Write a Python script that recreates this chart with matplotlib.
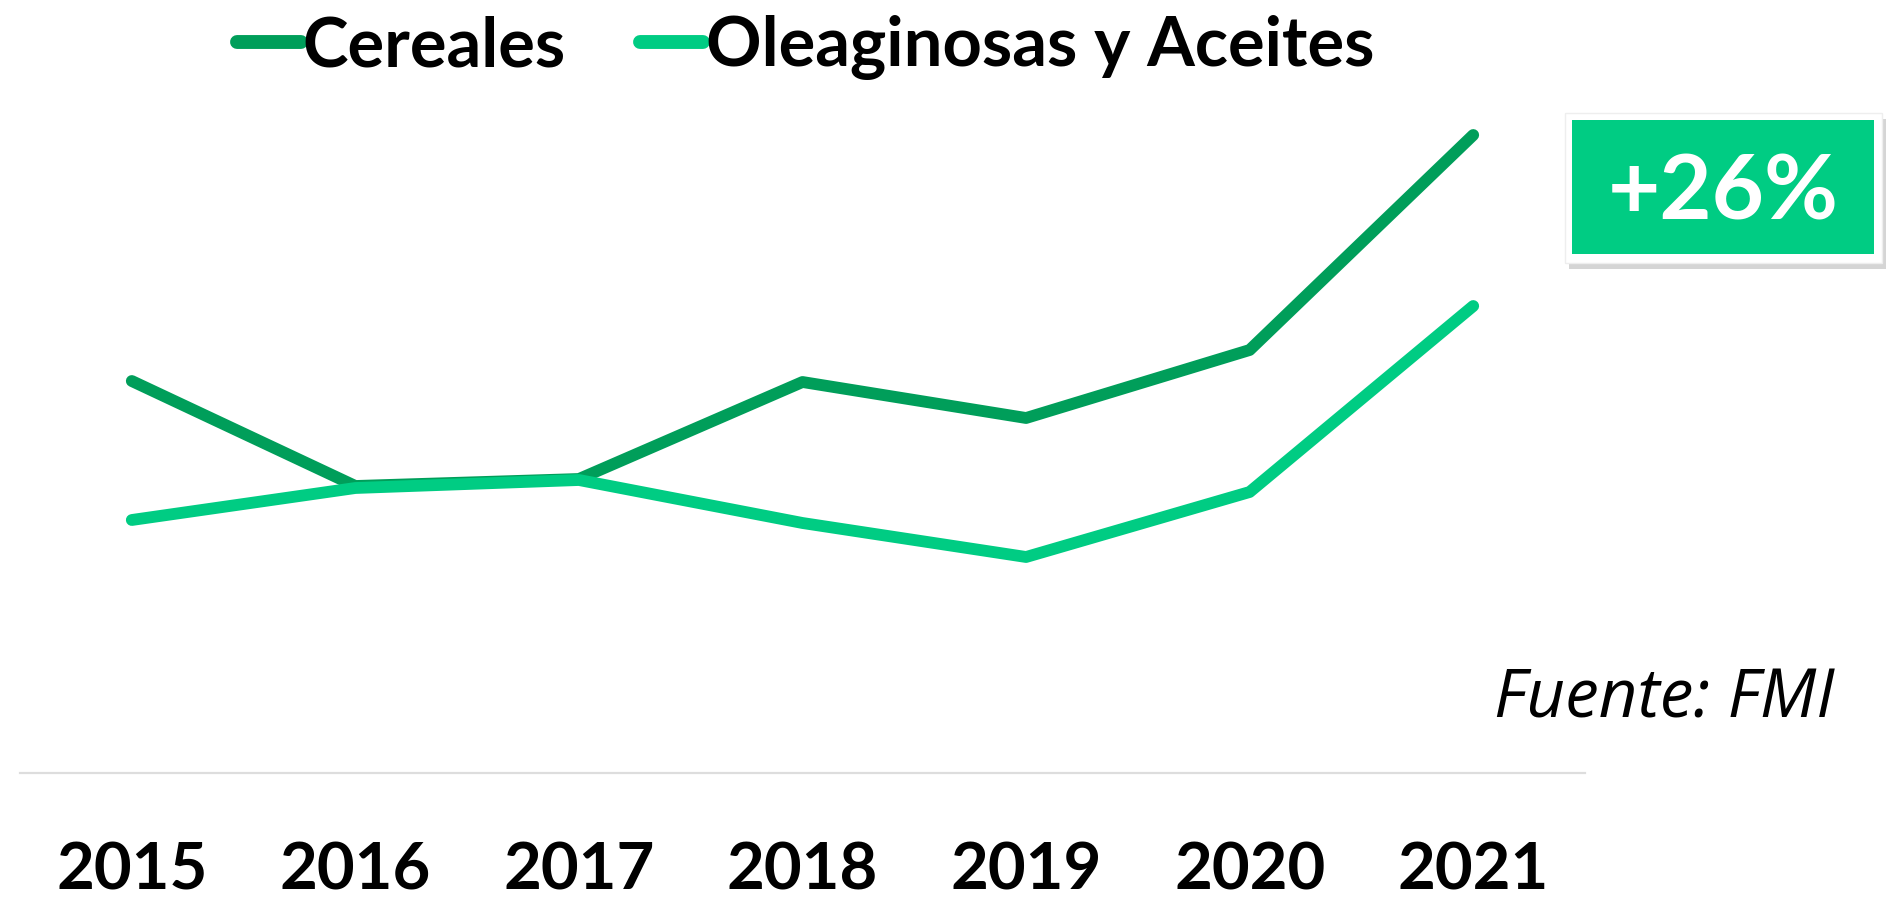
import matplotlib
matplotlib.use('Agg')
import matplotlib.pyplot as plt
import matplotlib.patches as patches
import matplotlib.patheffects as pe

# Datos (unidades relativas, sin eje Y visible)
anios = ['2015', '2016', '2017', '2018', '2019', '2020', '2021']
cereales = [392, 287, 294, 391, 355, 423, 638]
oleaginosas = [253, 285, 293, 250, 216, 281, 467]
etiquetas = ['Cereales', 'Oleaginosas y Aceites']
variacion = '+26%'
fuente = 'Fuente: FMI'

verde_oscuro = '#009E5A'
verde_claro = '#00CC83'

plt.rcParams['font.family'] = ['Lato', 'DejaVu Sans']

fig = plt.figure(figsize=(18.95, 8.98), dpi=100)
ax = fig.add_axes([20 / 1895, 125 / 898, 1565 / 1895, 673 / 898])

x = list(range(len(anios)))
ax.plot(x, cereales, color=verde_oscuro, lw=8.5, solid_capstyle='round',
        solid_joinstyle='round', label=etiquetas[0])
ax.plot(x, oleaginosas, color=verde_claro, lw=8.5, solid_capstyle='round',
        solid_joinstyle='round', label=etiquetas[1])

ax.set_xlim(-0.5, 6.5)
ax.set_ylim(0, 673)
ax.set_xticks(x)
ax.set_xticklabels(anios, fontsize=47, fontweight='bold')
ax.tick_params(axis='x', length=0, pad=49)
ax.set_yticks([])
for lado in ['top', 'left', 'right']:
    ax.spines[lado].set_visible(False)
ax.spines['bottom'].set_color('#DDDDDD')
ax.spines['bottom'].set_linewidth(1.6)

leg = ax.legend(loc='center', bbox_to_anchor=(0.425, 0.947),
                bbox_transform=fig.transFigure, ncol=2, frameon=False,
                prop={'size': 49.5, 'weight': 'bold'}, handlelength=0.93,
                handletextpad=0.03, columnspacing=1.07, borderpad=0)
for linea in leg.get_lines():
    linea.set_linewidth(10)
    linea.set_solid_capstyle('round')

# Recuadro con la variacion
sombra = [pe.SimplePatchShadow(offset=(3, -4), shadow_rgbFace='#888888', alpha=0.35), pe.Normal()]
caja = patches.Rectangle((1565 / 1895, (898 - 263) / 898), 317 / 1895, 150 / 898,
                         transform=fig.transFigure, facecolor='white',
                         edgecolor='#EEEEEE', lw=1, path_effects=sombra)
fig.add_artist(caja)
caja_verde = patches.Rectangle((1572 / 1895, (898 - 254) / 898), 302 / 1895, 134 / 898,
                               transform=fig.transFigure, facecolor=verde_claro, lw=0)
fig.add_artist(caja_verde)
fig.text(1723 / 1895, (898 - 220) / 898, variacion, color='white', fontsize=65,
         fontweight='bold', ha='center', va='baseline')

fig.text(1834 / 1895, (898 - 717) / 898, fuente, fontsize=48.5, style='italic',
         ha='right', va='baseline', family=['Open Sans', 'DejaVu Sans'])

fig.savefig('out.png', dpi=100)
